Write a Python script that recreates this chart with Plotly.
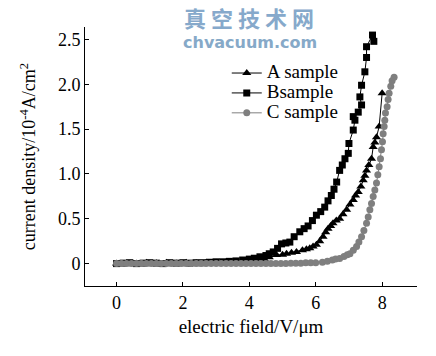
import plotly.graph_objects as go

# ---------------- data ----------------
a_x = [0.0, 0.3, 0.6, 0.9, 1.2, 1.5, 1.8, 2.1, 2.4, 2.7, 3.0, 3.3, 3.6, 3.9, 4.2, 4.45,
       4.6, 4.82, 5.0, 5.12, 5.27, 5.42, 5.6, 5.72, 5.82, 5.92, 6.02, 6.12, 6.22, 6.3,
       6.37, 6.45, 6.52, 6.62, 6.72, 6.82, 6.93, 7.03, 7.13, 7.2, 7.28, 7.36, 7.43,
       7.48, 7.53, 7.6, 7.68, 7.73, 7.78, 7.83, 7.91, 8.0]
a_y = [0.0, 0.005, 0.0, 0.01, 0.005, 0.01, 0.0, 0.01, 0.005, 0.01, 0.01, 0.015, 0.02,
       0.02, 0.03, 0.05, 0.07, 0.095, 0.1, 0.11, 0.12, 0.13, 0.15, 0.16, 0.17, 0.19,
       0.21, 0.25, 0.30, 0.35, 0.39, 0.42, 0.45, 0.48, 0.50, 0.55, 0.60, 0.66, 0.71,
       0.76, 0.80, 0.86, 0.93, 0.98, 1.04, 1.10, 1.17, 1.30, 1.35, 1.41, 1.53, 1.90]

b_x = [0.0, 0.2, 0.4, 0.6, 0.8, 1.0, 1.2, 1.4, 1.6, 1.8, 2.0, 2.2, 2.4, 2.6, 2.8, 3.0,
       3.2, 3.4, 3.6, 3.8, 4.0, 4.15, 4.32, 4.5, 4.6, 4.72, 4.85, 4.97, 5.1, 5.22, 5.35,
       5.52, 5.65, 5.77, 5.9, 6.02, 6.15, 6.27, 6.37, 6.47, 6.55, 6.63, 6.72, 6.8, 6.88,
       6.98, 7.0, 7.13, 7.18, 7.13, 7.28, 7.38, 7.33, 7.38, 7.48, 7.53, 7.53, 7.71, 7.75]
b_y = [0.0, 0.005, 0.01, 0.0, 0.005, 0.01, 0.005, 0.0, 0.01, 0.005, 0.01, 0.005, 0.01,
       0.01, 0.015, 0.02, 0.02, 0.025, 0.03, 0.04, 0.05, 0.06, 0.076, 0.09, 0.11, 0.13,
       0.17, 0.22, 0.23, 0.24, 0.30, 0.355, 0.39, 0.42, 0.48, 0.54, 0.58, 0.63, 0.70,
       0.76, 0.83, 0.91, 1.04, 1.10, 1.17, 1.23, 1.34, 1.49, 1.60, 1.64, 1.69, 1.77,
       1.86, 1.99, 2.14, 2.30, 2.42, 2.55, 2.48]

c_x = [0.0, 0.15, 0.3, 0.45, 0.6, 0.75, 0.9, 1.05, 1.2, 1.35, 1.5, 1.65, 1.8, 1.95,
       2.1, 2.25, 2.4, 2.55, 2.7, 2.85, 3.0, 3.15, 3.3, 3.45, 3.6, 3.75, 3.9, 4.05, 4.2,
       4.35, 4.5, 4.65, 4.8, 4.95, 5.1, 5.25, 5.4, 5.55, 5.7, 5.85, 6.0, 6.2, 6.35, 6.5,
       6.6, 6.72, 6.85, 6.95, 7.03, 7.13, 7.23, 7.3, 7.38, 7.45, 7.53, 7.58, 7.63, 7.68,
       7.73, 7.78, 7.83, 7.87, 7.91, 7.95, 7.98, 8.01, 8.03, 8.06, 8.08, 8.1, 8.15, 8.18,
       8.21, 8.26, 8.3, 8.36]
c_y = [0.0, 0.0, 0.0, 0.0, 0.0, 0.0, 0.0, 0.0, 0.0, 0.0, 0.0, 0.0, 0.0, 0.0,
       0.0, 0.0, 0.0, 0.0, 0.0, 0.0, 0.0, 0.0, 0.0, 0.0, 0.0, 0.0, 0.0, 0.0, 0.0,
       0.0, 0.0, 0.0, 0.0, 0.0, 0.0, 0.005, 0.005, 0.005, 0.01, 0.01, 0.01, 0.015,
       0.025, 0.04, 0.05, 0.058, 0.08, 0.10, 0.11, 0.15, 0.19, 0.24, 0.30, 0.37, 0.45,
       0.52, 0.60, 0.67, 0.75, 0.82, 0.90, 0.99, 1.08, 1.17, 1.27, 1.36, 1.45, 1.53,
       1.60, 1.68, 1.75, 1.83, 1.90, 1.98, 2.04, 2.08]

series_names = ["A sample", "Bsample", "C sample"]
x_ticks = [0, 2, 4, 6, 8]
y_ticks = [0, 0.5, 1.0, 1.5, 2.0, 2.5]
y_tick_text = ["0", "0.5", "1.0", "1.5", "2.0", "2.5"]

SERIF = "Liberation Serif, Times New Roman, serif"


def big(name):
    return '<span style="font-size:19px">' + name + '</span>'


fig = go.Figure()
fig.add_trace(go.Scatter(x=a_x, y=a_y, mode="lines+markers", name=big(series_names[0]),
                         line=dict(color="black", width=1),
                         marker=dict(symbol="triangle-up", size=8, color="black")))
fig.add_trace(go.Scatter(x=b_x, y=b_y, mode="lines+markers", name=big(series_names[1]),
                         line=dict(color="black", width=1),
                         marker=dict(symbol="square", size=7, color="black")))
fig.add_trace(go.Scatter(x=c_x, y=c_y, mode="lines+markers", name=big(series_names[2]),
                         line=dict(color="#7f7f7f", width=1),
                         marker=dict(symbol="circle", size=7, color="#7f7f7f")))

axis_common = dict(showgrid=False, zeroline=False, showline=True, linecolor="black",
                   linewidth=1, ticks="inside", ticklen=4, tickcolor="black",
                   automargin=False,
                   tickfont=dict(family=SERIF, size=18, color="black"))

fig.update_layout(
    width=428, height=348,
    margin=dict(l=77, r=19, t=19, b=70),
    paper_bgcolor="white", plot_bgcolor="white",
    font=dict(family=SERIF, color="black"),
    xaxis=dict(range=[-0.95, 9.05], tickvals=x_ticks,
               title=dict(text="electric field/V/μm", font=dict(family=SERIF, size=19), standoff=8),
               **axis_common),
    yaxis=dict(range=[-0.25, 2.64], tickvals=y_ticks, ticktext=y_tick_text,
               title=dict(text="current density/10<sup>-4</sup>A/cm<sup>2</sup>",
                          font=dict(family=SERIF, size=18), standoff=17),
               **axis_common),
    legend=dict(x=0.427, y=0.880, xanchor="left", yanchor="top",
                bgcolor="rgba(0,0,0,0)", font=dict(family=SERIF, size=13),
                tracegroupgap=0, itemwidth=30),
    showlegend=True,
)

fig.add_annotation(text="<b>真 空 技 术 网</b>", xref="paper", yref="paper",
                   x=(249 - 85) / 332, y=(286 - 17) / 259, xanchor="center", yanchor="middle",
                   showarrow=False,
                   font=dict(family="Noto Sans CJK SC", size=22, color="#86a9cb"))
fig.add_annotation(text="<b>chvacuum.com</b>", xref="paper", yref="paper",
                   x=(250 - 85) / 332, y=(286 - 42) / 259, xanchor="center", yanchor="middle",
                   showarrow=False,
                   font=dict(family="DejaVu Sans", size=16, color="#86a9c8"))

fig.write_html("out.html")
